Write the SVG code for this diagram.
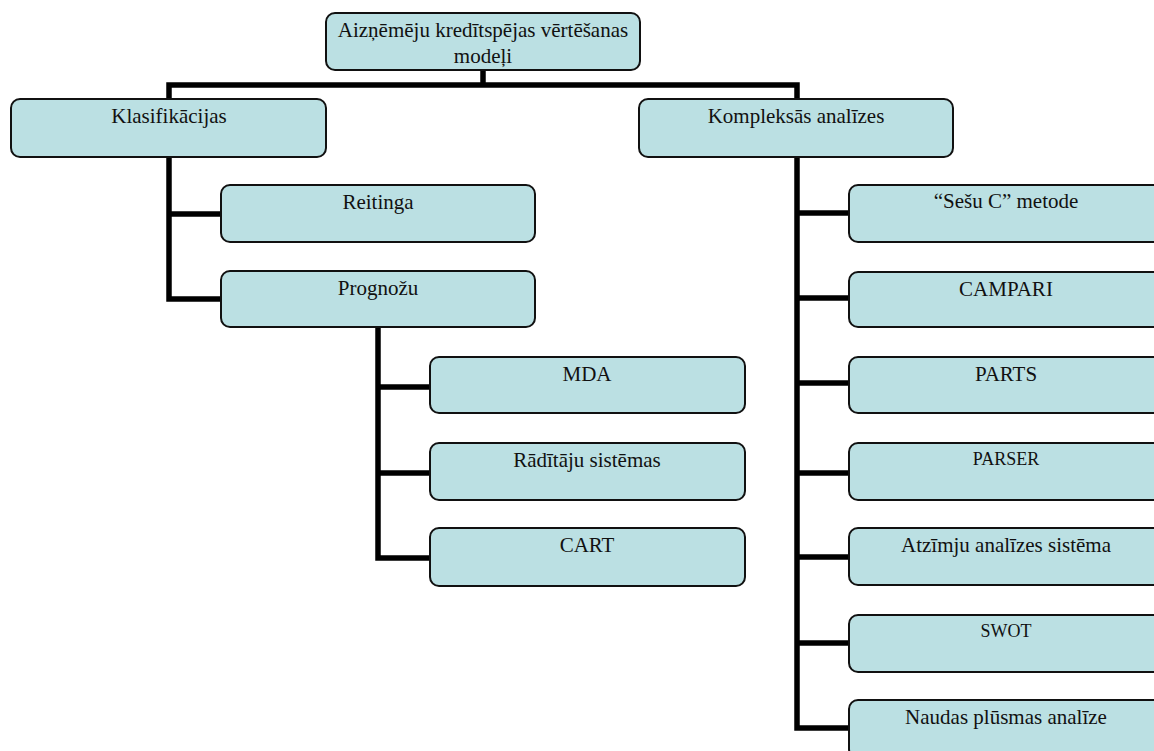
<svg xmlns="http://www.w3.org/2000/svg" width="1154" height="751" viewBox="0 0 1154 751">
<style>
.box{fill:#bbe0e3;stroke:#111;stroke-width:2}
.c{fill:none;stroke:#000;stroke-width:5.5;stroke-linejoin:miter;stroke-linecap:butt}
text{font-family:Liberation Serif, DejaVu Serif, serif;font-size:21px;fill:#111;text-anchor:middle}
</style>
<rect width="1154" height="751" fill="#fff"/>
<g id="connectors">
<path class="c" d="M483,70 V85"/>
<path class="c" d="M169,99 V85 H797 V99"/>
<path class="c" d="M169,157 V299 H221 M169,214 H221"/>
<path class="c" d="M378,327 V558 H430 M378,387 H430 M378,473 H430"/>
<path class="c" d="M797,157 V728 H849 M797,213 H849 M797,298 H849 M797,383 H849 M797,473 H849 M797,557 H849 M797,643 H849"/>
</g>
<g id="root"><rect class="box" x="326" y="13" width="314" height="57" rx="9"/><text x="483" y="37">Aizņēmēju kredītspējas vērtēšanas</text><text x="483" y="63">modeļi</text></g>
<g id="klas"><rect class="box" x="11" y="99" width="315" height="58" rx="9"/><text x="169" y="123">Klasifikācijas</text></g>
<g id="komp"><rect class="box" x="639" y="99" width="314" height="58" rx="9"/><text x="796" y="123">Kompleksās analīzes</text></g>
<g id="reit"><rect class="box" x="221" y="185" width="314" height="57" rx="9"/><text x="378" y="209">Reitinga</text></g>
<g id="prog"><rect class="box" x="221" y="271" width="314" height="56" rx="9"/><text x="378" y="295">Prognožu</text></g>
<g id="mda"><rect class="box" x="430" y="357" width="315" height="56" rx="9"/><text x="587" y="381">MDA</text></g>
<g id="radit"><rect class="box" x="430" y="443" width="315" height="57" rx="9"/><text x="587" y="467">Rādītāju sistēmas</text></g>
<g id="cart"><rect class="box" x="430" y="528" width="315" height="58" rx="9"/><text x="587" y="552">CART</text></g>
<g id="sesu"><rect class="box" x="849" y="185" width="320" height="57" rx="9"/><text x="1006" y="208">“Sešu C” metode</text></g>
<g id="campari"><rect class="box" x="849" y="272" width="320" height="55" rx="9"/><text x="1006" y="296">CAMPARI</text></g>
<g id="parts"><rect class="box" x="849" y="357" width="320" height="56" rx="9"/><text x="1006" y="381">PARTS</text></g>
<g id="parser"><rect class="box" x="849" y="443" width="320" height="57" rx="9"/><text x="1006" y="465" style="font-size:18px">PARSER</text></g>
<g id="atzimju"><rect class="box" x="849" y="528" width="320" height="57" rx="9"/><text x="1006" y="552">Atzīmju analīzes sistēma</text></g>
<g id="swot"><rect class="box" x="849" y="615" width="320" height="57" rx="9"/><text x="1006" y="637" style="font-size:18px">SWOT</text></g>
<g id="naudas"><rect class="box" x="849" y="700" width="320" height="58" rx="9"/><text x="1006" y="724">Naudas plūsmas analīze</text></g>
</svg>
